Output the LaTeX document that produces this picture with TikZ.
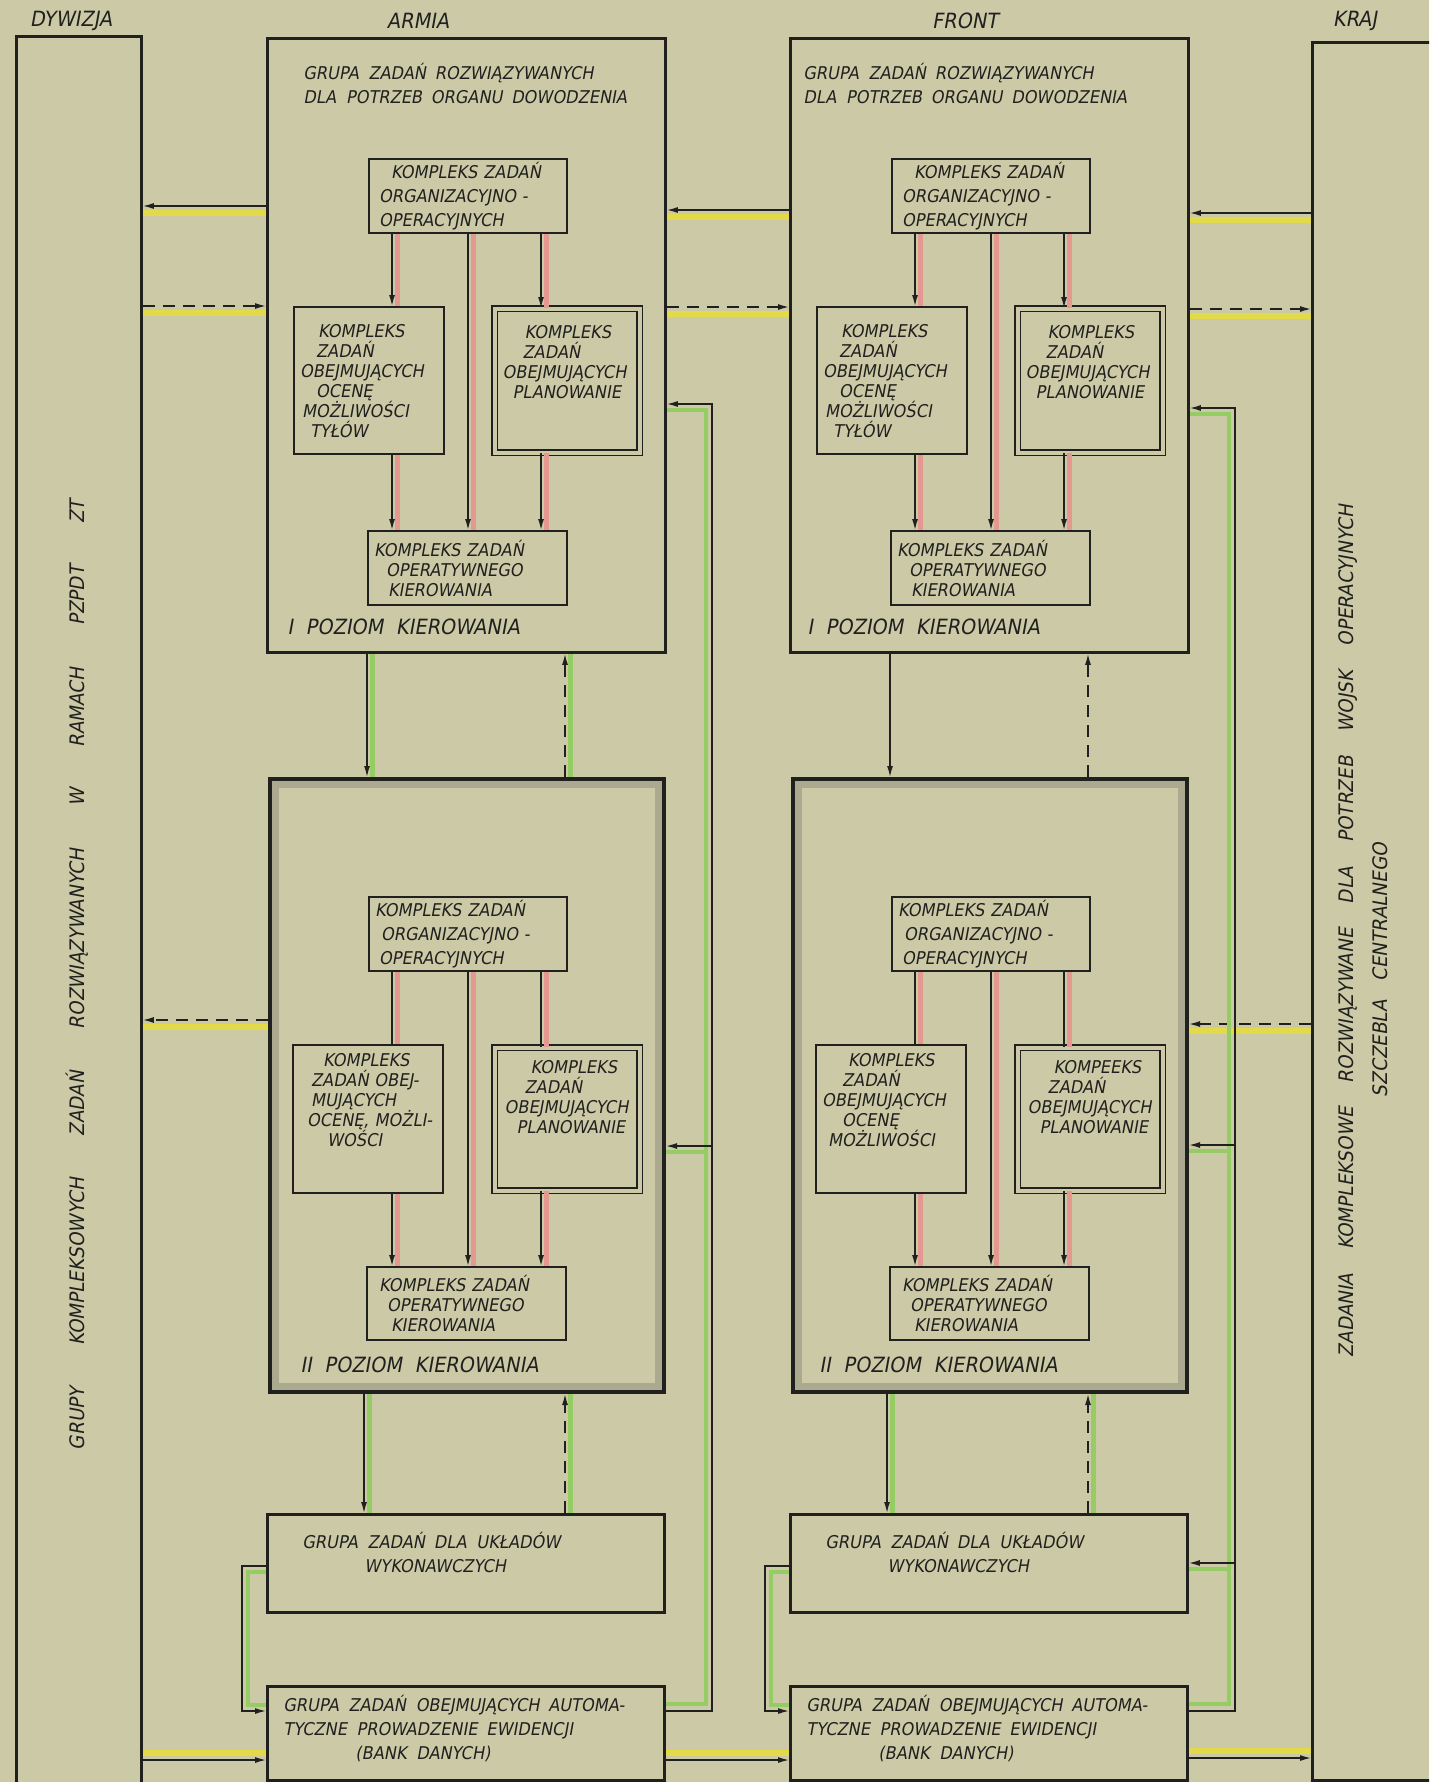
\documentclass[tikz,border=0pt]{standalone}
\usepackage{fontspec}
\setmainfont{DejaVu Sans}[FakeSlant=0.18,FakeStretch=0.92]
\usetikzlibrary{arrows.meta}

\definecolor{paper}{RGB}{203,201,166}
\definecolor{ink}{RGB}{32,32,30}
\definecolor{hlyellow}{RGB}{226,218,72}
\definecolor{hlgreen}{RGB}{150,204,100}
\definecolor{hlred}{RGB}{228,152,144}
\definecolor{pencil}{RGB}{120,120,110}

\newcommand\boxfont{\fontsize{8.8}{12}\selectfont\spaceskip=0.55em\relax}
\newcommand\tightfont{\fontsize{8.8}{10}\selectfont\spaceskip=0.55em\relax}
\newcommand\labfont{\fontsize{10.5}{12}\selectfont\spaceskip=0.6em\relax}
\newcommand\rotfont{\fontsize{10}{12}\selectfont}

\tikzset{
  panel/.style 2 args={draw=ink, line width=1.4pt, anchor=north west, inner sep=0pt,
    minimum width=#1, minimum height=#2},
  heavy/.style 2 args={panel={#1}{#2}, line width=2pt},
  box/.style 2 args={draw=ink, line width=1.1pt, anchor=north west, inner xsep=3pt,
    inner ysep=0pt, align=left, text=ink, font=\tightfont, text width=#1, minimum height=#2},
  dbox/.style 2 args={box={#1}{#2}, double=paper, double distance=1.9pt, line width=0.65pt,
    inner xsep=4pt},
  txt/.style={font=\boxfont, text=ink, align=left, inner sep=0pt},
  band/.style={draw=pencil, line width=3.5pt, opacity=0.38},
  link/.style={draw=ink, line width=0.7pt},
  dashlink/.style={link, dash pattern=on 6pt off 4pt},
  headed/.style={-{Latex[length=5.5pt,width=3pt]}},
  greenline/.style={draw=hlgreen, line width=2.2pt},
  redhl/.style={preaction={draw=hlred, solid, -, line width=2.3pt, transform canvas={xshift=2.6pt}}},
  greenhl/.style={preaction={draw=hlgreen, solid, -, line width=2.3pt, transform canvas={xshift=2.8pt}}},
  yellowhl/.style={preaction={draw=hlyellow, solid, -, line width=3pt, transform canvas={yshift=-3.3pt}}},
  yellowhlup/.style={preaction={draw=hlyellow, solid, -, line width=3pt, transform canvas={yshift=3.6pt}}},
  nohl/.style={},
}

\begin{document}
\begin{tikzpicture}[x=0.5pt, y=-0.5pt]
  \useasboundingbox (0,0) rectangle (1429,1782);
  \clip (0,0) rectangle (1429,1782);
  \fill[paper] (0,0) rectangle (1429,1782);

  % column titles
  \node[txt, font=\labfont] (tDyw) at (71,21) {DYWIZJA};
  \node[txt, font=\labfont] (tArm) at (418,21) {ARMIA};
  \node[txt, font=\labfont] (tFro) at (965,21) {FRONT};
  \node[txt, font=\labfont] (tKra) at (1355,21) {KRAJ};

  % outer columns
  \node[panel={62.5pt}{885pt}] (dyw) at (15,35) {};
  \node[panel={70pt}{869pt}] (kraj) at (1311,41) {};
  \node[txt, font=\rotfont, rotate=90] (dywT) at (77,975)
    {\makebox[475pt][l]{GRUPY\hfill KOMPLEKSOWYCH\hfill ZADAŃ\hfill ROZWIĄZYWANYCH\hfill W\hfill RAMACH\hfill PZPDT\hfill ZT}};
  \node[txt, font=\rotfont, rotate=90] (krajT) at (1348,931)
    {\makebox[426pt][l]{ZADANIA\hfill KOMPLEKSOWE\hfill ROZWIĄZYWANE\hfill DLA\hfill POTRZEB\hfill WOJSK\hfill OPERACYJNYCH}};
  \node[txt, font=\rotfont, rotate=90] (krajT2) at (1380,970)
    {\makebox[127pt][l]{SZCZEBLA\hfill CENTRALNEGO}};

  % ARMIA and FRONT
  \foreach \c/\xo/\hx/\px/\ppx/\gI/\kompl/\ocenaII in {%
      A/266/37/21/34/greenhl/KOMPLEKS/{\hspace*{12pt}KOMPLEKS\\\hspace*{6pt}ZADAŃ OBEJ-\\\hspace*{6pt}MUJĄCYCH\\\hspace*{4pt}OCENĘ,~MOŻLI-\\\hspace*{14pt}WOŚCI},
      F/789/14/18/30/nohl/KOMPEEKS/{\hspace*{13pt}KOMPLEKS\\\hspace*{10pt}ZADAŃ\\OBEJMUJĄCYCH\\\hspace*{10pt}OCENĘ\\\hspace*{3pt}MOŻLIWOŚCI}}
  {
    \coordinate (\c-L) at (\xo+126,0);
    \coordinate (\c-M) at (\xo+202,0);
    \coordinate (\c-R) at (\xo+275,0);
    \coordinate (\c-D) at (\xo+101,0);
    \coordinate (\c-E) at (\xo+98,0);
    \coordinate (\c-U) at (\xo+299,0);

    % I poziom
    \node[panel={199pt}{307pt}] (\c-I) at (\xo,37) {};
    \node[txt, anchor=west] (\c-Ihead) at (\xo+\hx,83)
      {GRUPA ZADAŃ\enspace ROZWIĄZYWANYCH\\DLA POTRZEB\enspace ORGANU\enspace DOWODZENIA};
    \node[box={93pt}{37pt}, font=\boxfont] (\c-Iorg) at (\xo+102,158)
      {\hspace*{8pt}KOMPLEKS ZADAŃ\\\hspace*{2pt}ORGANIZACYJNO -\\\hspace*{2pt}OPERACYJNYCH};
    \node[box={69pt}{73.5pt}] (\c-Iocena) at (\xo+27,306)
      {\hspace*{9pt}KOMPLEKS\\\hspace*{8pt}ZADAŃ\\OBEJMUJĄCYCH\\\hspace*{8pt}OCENĘ\\\hspace*{1pt}MOŻLIWOŚCI\\\hspace*{5pt}TYŁÓW};
    \node[dbox={64.5pt}{72pt}, text depth=49pt] (\c-Iplan) at (\xo+228,308)
      {\hspace*{11pt}KOMPLEKS\\\hspace*{10pt}ZADAŃ\\OBEJMUJĄCYCH\\\hspace*{5pt}PLANOWANIE};
    \node[box={93.5pt}{37pt}] (\c-Ioper) at (\xo+101,530)
      {KOMPLEKS ZADAŃ\\\hspace*{6pt}OPERATYWNEGO\\\hspace*{7pt}KIEROWANIA};
    \node[txt, anchor=west, font=\labfont] (\c-Ilab) at (\xo+\px,627) {I POZIOM KIEROWANIA};

    \draw[link, headed, redhl] (\c-Iorg.south -| \c-L) -- (\c-Iocena.north -| \c-L);
    \draw[link, headed, redhl] (\c-Iorg.south -| \c-M) -- (\c-Ioper.north -| \c-M);
    \draw[link, headed, redhl] (\c-Iorg.south -| \c-R) -- (\c-Iplan.north -| \c-R);
    \draw[link, headed, redhl] (\c-Iocena.south -| \c-L) -- (\c-Ioper.north -| \c-L);
    \draw[link, headed, redhl] (\c-Iplan.south -| \c-R) -- (\c-Ioper.north -| \c-R);

    % II poziom
    \node[heavy={197pt}{306.5pt}] (\c-II) at (\xo+2,777) {};
    \draw[band] ([shift={(3.8pt,-3.8pt)}]\c-II.north west) rectangle ([shift={(-3.8pt,3.8pt)}]\c-II.south east);
    \node[box={93pt}{37pt}, font=\boxfont] (\c-IIorg) at (\xo+102,896)
      {KOMPLEKS ZADAŃ\\\hspace*{3pt}ORGANIZACYJNO -\\\hspace*{2pt}OPERACYJNYCH};
    \node[box={69pt}{74pt}, text depth=59pt] (\c-IIocena) at (\xo+26,1044) {\ocenaII};
    \node[dbox={64.5pt}{71.5pt}, text depth=52pt] (\c-IIplan) at (\xo+228,1047)
      {\hspace*{14pt}\kompl\\\hspace*{11pt}ZADAŃ\\\hspace*{1pt}OBEJMUJĄCYCH\\\hspace*{7pt}PLANOWANIE};
    \node[box={93.5pt}{36.5pt}] (\c-IIoper) at (\xo+100,1266)
      {\hspace*{3pt}KOMPLEKS ZADAŃ\\\hspace*{7pt}OPERATYWNEGO\\\hspace*{9pt}KIEROWANIA};
    \node[txt, anchor=west, font=\labfont] (\c-IIlab) at (\xo+\ppx,1365) {II POZIOM KIEROWANIA};

    \draw[link, redhl] (\c-IIorg.south -| \c-L) -- (\c-IIocena.north -| \c-L);
    \draw[link, headed, redhl] (\c-IIorg.south -| \c-M) -- (\c-IIoper.north -| \c-M);
    \draw[link, redhl] (\c-IIorg.south -| \c-R) -- (\c-IIplan.north -| \c-R);
    \draw[link, headed, redhl] (\c-IIocena.south -| \c-L) -- (\c-IIoper.north -| \c-L);
    \draw[link, headed, redhl] (\c-IIplan.south -| \c-R) -- (\c-IIoper.north -| \c-R);

    % uklady wykonawcze i bank danych
    \node[panel={198.5pt}{49pt}] (\c-wyk) at (\xo,1513) {};
    \node[txt, anchor=west] (\c-wykT) at (\xo+36,1552)
      {GRUPA ZADAŃ\enspace DLA UKŁADÓW\\\hspace*{31pt}WYKONAWCZYCH};
    \node[panel={198.5pt}{47pt}] (\c-bank) at (\xo,1685) {};
    \node[txt, anchor=west] (\c-bankT) at (\xo+17,1728)
      {GRUPA ZADAŃ OBEJMUJĄCYCH\enspace AUTOMA-\\TYCZNE PROWADZENIE\enspace EWIDENCJI\\\hspace*{36pt}(BANK DANYCH)};

    % between levels
    \draw[link, headed, \gI] (\c-I.south -| \c-D) -- (\c-II.north -| \c-D);
    \draw[dashlink, headed, \gI] (\c-II.north -| \c-U) -- (\c-I.south -| \c-U);
    \draw[link, headed, greenhl] (\c-II.south -| \c-E) -- (\c-wyk.north -| \c-E);
    \draw[dashlink, headed, greenhl] (\c-wyk.north -| \c-U) -- (\c-II.south -| \c-U);

    % loop to the bank
    \draw[greenline] (\c-wyk.west |- 0,1572) -| (\xo-18,1705) -- (\c-bank.west |- 0,1705);
    \draw[link, headed] (\c-wyk.west |- 0,1566) -| (\xo-24,1711) -- (\c-bank.west |- 0,1711);
  }

  % horizontal links
  \draw[link, headed, yellowhl] (A-I.west |- 0,206) -- (dyw.east |- 0,206);
  \draw[dashlink, headed, yellowhl] (dyw.east |- 0,306) -- (A-I.west |- 0,306);
  \draw[dashlink, headed, yellowhl] (A-II.west |- 0,1020) -- (dyw.east |- 0,1020);
  \draw[link, headed, yellowhlup] (dyw.east |- 0,1760) -- (A-bank.west |- 0,1760);
  \draw[link, headed, yellowhl] (F-I.west |- 0,210) -- (A-I.east |- 0,210);
  \draw[dashlink, headed, yellowhl] (A-I.east |- 0,307) -- (F-I.west |- 0,307);
  \draw[link, headed, yellowhl] (kraj.west |- 0,213) -- (F-I.east |- 0,213);
  \draw[dashlink, headed, yellowhl] (F-I.east |- 0,309) -- (kraj.west |- 0,309);
  \draw[dashlink, headed, yellowhl] (kraj.west |- 0,1024) -- (F-II.east |- 0,1024);
  \draw[link, headed, yellowhlup] (A-bank.east |- 0,1760) -- (F-bank.west |- 0,1760);
  \draw[link, headed, yellowhlup] (F-bank.east |- 0,1758) -- (kraj.west |- 0,1758);

  % ARMIA return bus
  \coordinate (A-j1) at (712,1146);
  \draw[greenline] (A-bank.east |- 0,1704) -| (706,410) -- (A-I.east |- 0,410);
  \draw[greenline] (706,1152) -- (A-II.east |- 0,1152);
  \draw[link, headed] (A-bank.east |- 0,1711) -| (712,404) -- (A-I.east |- 0,404);
  \draw[link, headed] (A-j1) -- (A-II.east |- A-j1);

  % FRONT return bus
  \coordinate (F-j1) at (1235,1145);
  \coordinate (F-j2) at (1235,1563);
  \draw[greenline] (F-bank.east |- 0,1704) -| (1229,414) -- (F-I.east |- 0,414);
  \draw[greenline] (1229,1151) -- (F-II.east |- 0,1151);
  \draw[greenline] (1229,1569) -- (F-wyk.east |- 0,1569);
  \draw[link, headed] (F-bank.east |- 0,1711) -| (1235,408) -- (F-I.east |- 0,408);
  \draw[link, headed] (F-j1) -- (F-II.east |- F-j1);
  \draw[link, headed] (F-j2) -- (F-wyk.east |- F-j2);
\end{tikzpicture}
\end{document}
